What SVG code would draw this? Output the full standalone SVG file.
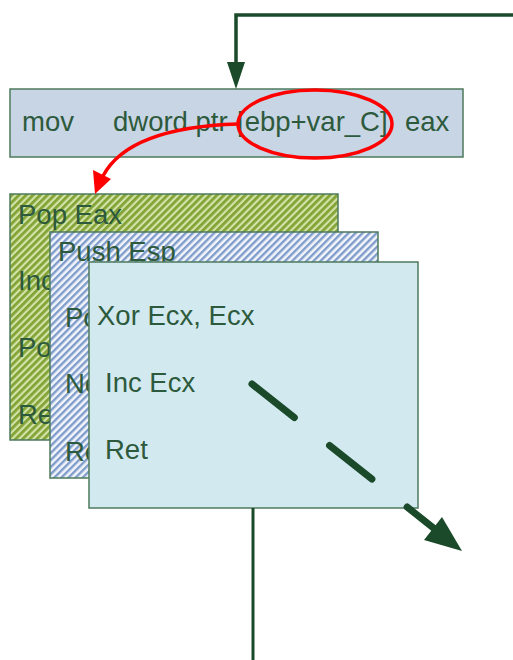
<svg xmlns="http://www.w3.org/2000/svg" width="513" height="660" viewBox="0 0 513 660">
<defs>
<pattern id="hg" width="5" height="5" patternUnits="userSpaceOnUse" patternTransform="rotate(45)">
<rect width="5" height="5" fill="#d3e3a8"/>
<rect width="2.8" height="5" fill="#82a335"/>
</pattern>
<pattern id="hb" width="5" height="5" patternUnits="userSpaceOnUse" patternTransform="rotate(45)">
<rect width="5" height="5" fill="#f2f5fb"/>
<rect width="2.4" height="5" fill="#7f9cca"/>
</pattern>
</defs>
<style>
.t{font-family:"Liberation Sans",Arial,sans-serif;font-size:27.5px;fill:#2d5a3c}
.box{stroke:#4d7a5c;stroke-width:1.5}
</style>
<g id="mov">
<rect class="box" x="10" y="89" width="453" height="68" fill="#c8d5e4"/>
<text class="t" x="22" y="131">mov</text>
<text class="t" x="113" y="131">dword ptr</text>
<text class="t" x="237" y="131">[ebp+var_C]</text>
<text class="t" x="405" y="131">eax</text>
</g>
<g id="gadget1">
<rect class="box" x="10" y="194" width="328" height="246" fill="url(#hg)"/>
<text class="t" x="18" y="224">Pop Eax</text>
<text class="t" x="18" y="290">Inc</text>
<text class="t" x="18" y="357">Po</text>
<text class="t" x="18" y="424">Re</text>
</g>
<g id="gadget2">
<rect class="box" x="50" y="232" width="328" height="246" fill="url(#hb)"/>
<text class="t" x="58" y="261">Push Esp</text>
<text class="t" x="65" y="327">Po</text>
<text class="t" x="65" y="393">Ne</text>
<text class="t" x="65" y="461">Re</text>
</g>
<g id="gadget3">
<rect class="box" x="89" y="262" width="329" height="246" fill="#d2e9ef"/>
<text class="t" x="97" y="325">Xor Ecx, Ecx</text>
<text class="t" x="105" y="392">Inc Ecx</text>
<text class="t" x="105" y="459">Ret</text>
</g>
<g id="connectors" fill="none">
<path d="M513,15 H236 V64" stroke="#1a4a2a" stroke-width="3.5"/>
<path d="M227,62 L245,62 L236,89 Z" fill="#1a4a2a"/>
<ellipse cx="315" cy="124" rx="77" ry="34" stroke="#ff0000" stroke-width="3.5"/>
<path d="M238,124 C175,126 122,140 103,176" stroke="#ff0000" stroke-width="3.5"/>
<path d="M93,170 L111,179 L95,194 Z" fill="#ff0000"/>
<path d="M252,384 L436,530" stroke="#1a4a2a" stroke-width="7" stroke-linecap="round" stroke-dasharray="54,45"/>
<path d="M442,517 L462,551 L424,540 Z" fill="#1a4a2a"/>
<path d="M253,508 V660" stroke="#1a4a2a" stroke-width="3"/>
</g>
</svg>
